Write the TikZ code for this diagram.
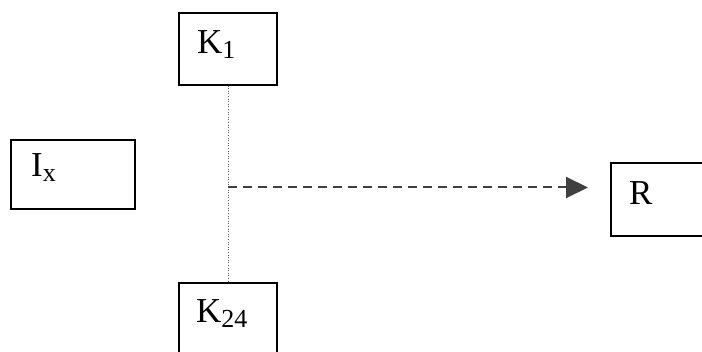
\documentclass[tikz,border=0pt]{standalone}
\usepackage{fontspec}
\setmainfont{Liberation Serif}
\usetikzlibrary{arrows.meta}
\begin{document}
\begin{tikzpicture}[x=1pt,y=-1pt,
  box/.style={draw=black, line width=1.3pt, minimum width=#1, inner sep=0pt},
  lbl/.style={anchor=base west, inner sep=0pt, font=\fontsize{35}{35}\selectfont},
  link/.style={draw=black!65, line width=0.6pt, dotted},
  flow/.style={draw=black!75, line width=2pt, dash pattern=on 9pt off 6pt,
    -{Triangle[length=22pt,width=21pt]}}]
\useasboundingbox (0,0) rectangle (702,352);
\clip (0,0) rectangle (702,352);
\newcommand{\sub}[1]{\raisebox{-5pt}{\fontsize{26}{26}\selectfont #1}}
% boxes
\node[box=124pt, minimum height=69pt] (ix) at (73,174.5) {};
\node[box=98pt, minimum height=72pt] (k1) at (228,49) {};
\node[box=98pt, minimum height=72pt] (k24) at (228,319) {};
\node[box=100pt, minimum height=73pt] (r) at (661,199.5) {};
% labels
\node[lbl] (ixt) at (31,177) {I\sub{x}};
\node[lbl] (k1t) at (197,54) {K\sub{1}};
\node[lbl] (k24t) at (196,323) {K\sub{24}};
\node[lbl] (rt) at (629,205) {R};
% connectors
\coordinate (j) at (228,187.5);
\coordinate (tip) at (588,187.5);
\draw[link] (k1.south) -- (k24.north);
\draw[flow] (j) -- (tip);
\end{tikzpicture}
\end{document}
